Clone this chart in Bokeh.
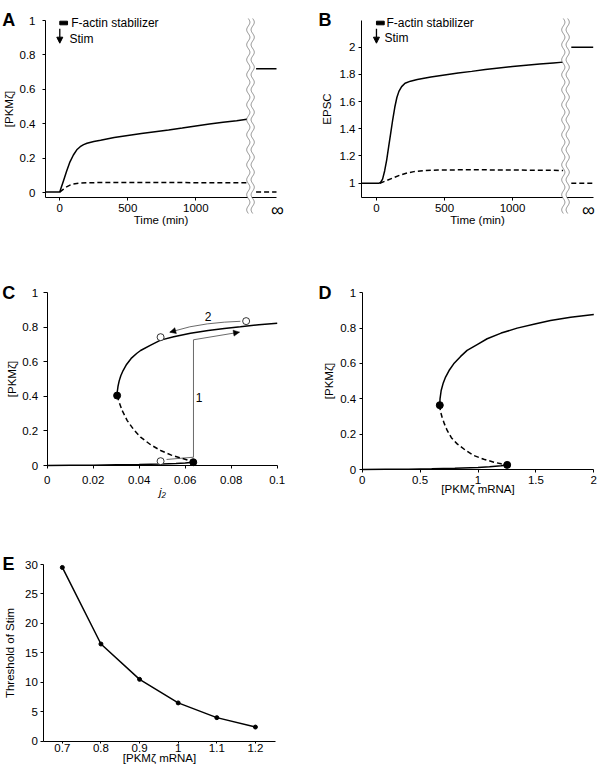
import numpy as np
from bokeh.plotting import figure
from bokeh.layouts import column, row
from bokeh.models import (Range1d, FixedTicker, CustomJSTickFormatter, Label, Arrow,
                          NormalHead, PolyAnnotation)
from bokeh.embed import file_html
from bokeh.resources import INLINE

FONT = "Liberation Sans"
TICK_FS = "11.5px"
LAB_FS = "11.5px"

# ---------------- Panel A data ----------------
a_solid_t = [-105, 0, 10, 25, 50, 75, 100, 125, 150, 175, 200, 250, 300, 400, 500, 600, 700,
             800, 900, 1000, 1100, 1200, 1300, 1388]
a_solid_v = [0.005, 0.005, 0.03, 0.065, 0.125, 0.18, 0.22, 0.25, 0.268, 0.28, 0.288, 0.298,
             0.305, 0.321, 0.333, 0.344, 0.355, 0.365, 0.376, 0.388, 0.399, 0.41, 0.419, 0.428]
a_dash_t = [0, 25, 50, 75, 100, 150, 200, 300, 500, 800, 1100, 1388]
a_dash_v = [0.005, 0.02, 0.035, 0.045, 0.052, 0.057, 0.059, 0.06, 0.06, 0.06, 0.059, 0.059]
a_inf_t = [1443, 1593]
a_inf_solid = [0.72, 0.72]
a_inf_dash = [0.005, 0.005]
a_yticks = [0, 0.2, 0.4, 0.6, 0.8, 1]
time_ticks = [0, 500, 1000]

# ---------------- Panel B data ----------------
b_solid_t = [-110, 20, 30, 45, 60, 75, 90, 105, 120, 135, 150, 165, 185, 210, 250, 300, 400,
             500, 600, 700, 800, 900, 1000, 1100, 1200, 1300, 1372]
b_solid_v = [1.0, 1.0, 1.005, 1.03, 1.09, 1.17, 1.27, 1.37, 1.47, 1.56, 1.63, 1.675, 1.71,
             1.735, 1.75, 1.762, 1.78, 1.795, 1.81, 1.822, 1.835, 1.847, 1.858, 1.867, 1.876,
             1.884, 1.89]
b_dash_t = [25, 75, 125, 175, 225, 275, 350, 450, 600, 800, 1000, 1200, 1372]
b_dash_v = [1.0, 1.02, 1.04, 1.06, 1.075, 1.085, 1.092, 1.097, 1.098, 1.098, 1.097, 1.095, 1.094]
b_inf_t = [1432, 1593]
b_inf_solid = [2.0, 2.0]
b_inf_dash = [1.0, 1.0]
b_yticks = [1, 1.2, 1.4, 1.6, 1.8, 2]

# ---------------- Panel C data ----------------
c_up_j = [0.0304, 0.0305, 0.0308, 0.0313, 0.032, 0.033, 0.0345, 0.0365, 0.039, 0.0406, 0.045,
          0.0493, 0.055, 0.0623, 0.07, 0.077, 0.084, 0.092, 0.1]
c_up_v = [0.405, 0.43, 0.46, 0.49, 0.52, 0.55, 0.585, 0.62, 0.65, 0.666, 0.697, 0.726, 0.745,
          0.766, 0.782, 0.793, 0.803, 0.815, 0.824]
c_mid_j = [0.0304, 0.0312, 0.0326, 0.0348, 0.0375, 0.0406, 0.045, 0.0493, 0.054, 0.058, 0.0613,
           0.0635]
c_mid_v = [0.405, 0.37, 0.318, 0.26, 0.21, 0.164, 0.12, 0.087, 0.06, 0.044, 0.03, 0.019]
c_low_j = [0, 0.01, 0.02, 0.03, 0.04, 0.05, 0.056, 0.06, 0.0635]
c_low_v = [0.0, 0.001, 0.002, 0.004, 0.006, 0.009, 0.012, 0.015, 0.019]
c_fold_j = [0.0304, 0.0635]
c_fold_v = [0.405, 0.019]
c_open_j = [0.0493, 0.0493, 0.0865]
c_open_v = [0.025, 0.743, 0.836]
c_path1_j = [0.0519, 0.0636, 0.0636, 0.0836]
c_path1_v = [0.035, 0.048, 0.728, 0.772]
c_path2_j = [0.084, 0.077, 0.0696, 0.062, 0.0533]
c_path2_v = [0.835, 0.830, 0.82, 0.803, 0.772]
c_xticks = [0, 0.02, 0.04, 0.06, 0.08, 0.1]

# ---------------- Panel D data ----------------
d_up_m = [0.67, 0.672, 0.682, 0.70, 0.72, 0.75, 0.79, 0.85, 0.906, 1.0, 1.079, 1.2, 1.338, 1.5,
          1.626, 1.8, 2.0]
d_up_v = [0.364, 0.40, 0.447, 0.49, 0.523, 0.56, 0.598, 0.64, 0.674, 0.71, 0.74, 0.772, 0.80,
          0.825, 0.843, 0.862, 0.877]
d_mid_m = [0.67, 0.675, 0.69, 0.71, 0.734, 0.77, 0.82, 0.89, 0.964, 1.05, 1.137, 1.2, 1.252]
d_mid_v = [0.364, 0.33, 0.296, 0.258, 0.221, 0.18, 0.145, 0.11, 0.079, 0.058, 0.0415, 0.032, 0.026]
d_low_m = [0, 0.2, 0.4, 0.6, 0.8, 1.0, 1.1, 1.2, 1.252]
d_low_v = [0.0, 0.001, 0.002, 0.004, 0.007, 0.012, 0.016, 0.021, 0.026]
d_fold_m = [0.67, 1.252]
d_fold_v = [0.364, 0.026]
d_xticks = [0, 0.5, 1, 1.5, 2]

# ---------------- Panel E data ----------------
e_mrna = [0.7, 0.8, 0.9, 1.0, 1.1, 1.2]
e_thresh = [29.5, 16.5, 10.5, 6.5, 4.0, 2.4]
e_yticks = [0, 5, 10, 15, 20, 25, 30]

NUMFMT = "return String(Math.round(tick*1000)/1000);"


def build(fig_box, area, xr, yr, yax, xax):
    """fig_box: page x, y, w, h of the figure; area: page left, right, top, bottom of the axes box."""
    fx0, fy0, fw, fh = fig_box
    al, ar, at, ab = area
    x0, x1 = xr
    y0, y1 = yr
    xpp = (x1 - x0) / (ar - al)
    ypp = (y1 - y0) / (ab - at)
    X0 = x0 - (al - fx0) * xpp
    X1 = x1 + (fx0 + fw - ar) * xpp
    Y1 = y1 + (at - fy0) * ypp
    Y0 = y0 - (fy0 + fh - ab) * ypp
    p = figure(width=fw, height=fh, min_border=0, x_range=Range1d(X0, X1),
               y_range=Range1d(Y0, Y1), output_backend="svg", toolbar_location=None, tools="")
    p.title.visible = False
    p.outline_line_color = None
    p.grid.visible = False
    p.background_fill_color = "white"
    p.border_fill_color = "white"
    for ax, (tout, st, lst) in ((p.xaxis[0], xax), (p.yaxis[0], yax)):
        ax.axis_line_color = "black"
        ax.axis_line_width = 1
        ax.major_tick_line_color = "black"
        ax.major_tick_out = tout
        ax.major_tick_in = 0
        ax.minor_tick_line_color = None
        ax.major_label_text_font = FONT
        ax.major_label_text_font_size = TICK_FS
        ax.major_label_text_color = "black"
        ax.major_label_standoff = st
        ax.axis_label_text_font = FONT
        ax.axis_label_text_font_size = LAB_FS
        ax.axis_label_text_font_style = "normal"
        ax.axis_label_text_color = "black"
        ax.axis_label_standoff = lst
    p.xaxis[0].fixed_location = y0
    p.xaxis[0].bounds = (x0, x1)
    p.yaxis[0].fixed_location = x0
    p.yaxis[0].bounds = (y0, y1)

    def tx(px):
        return X0 + (px - fx0) * xpp

    def ty(py):
        return Y1 - (py - fy0) * ypp

    return p, tx, ty, xpp, ypp


def letter(p, tx, ty, txt, px, py):
    p.add_layout(Label(x=tx(px), y=ty(py), text=txt, text_font=FONT, text_font_size="18px",
                       text_font_style="bold", text_baseline="alphabetic", text_align="left",
                       text_color="black"))


def add_break(p, xc, y_top, y_bot, xpp, ypp):
    hpx = (y_top - y_bot) / ypp
    py = np.linspace(0, hpx, 260)
    ys = y_top - py * ypp
    xl = xc - 2.2 * xpp + 1.6 * xpp * np.sin(2 * np.pi * py / 15.0)
    xr = xl + 4.4 * xpp
    p.add_layout(PolyAnnotation(xs=list(np.concatenate([xl, xr[::-1]])),
                                ys=list(np.concatenate([ys, ys[::-1]])),
                                fill_color="white", fill_alpha=1, line_color=None))
    for xx in (xl, xr):
        p.add_layout(PolyAnnotation(xs=list(np.concatenate([xx, xx[::-1]])),
                                    ys=list(np.concatenate([ys, ys[::-1]])),
                                    fill_alpha=0, line_color="#444444", line_width=1))


def legend_marks(p, bar, txt_xy, arr, stim_xy):
    p.quad(left=[bar[0]], right=[bar[1]], bottom=[bar[2]], top=[bar[3]], color="black")
    p.add_layout(Label(x=txt_xy[0], y=txt_xy[1], text="F-actin stabilizer", text_font=FONT,
                       text_font_size="12px", text_baseline="middle", text_color="black"))
    p.add_layout(Arrow(x_start=arr[0], y_start=arr[1], x_end=arr[0], y_end=arr[2],
                       line_width=1.3, line_color="black",
                       end=NormalHead(size=6, fill_color="black", line_color="black",
                                      line_width=1)))
    p.add_layout(Label(x=stim_xy[0], y=stim_xy[1], text="Stim", text_font=FONT,
                       text_font_size="12px", text_baseline="middle", text_color="black"))


def inf_label(p, x, y):
    p.add_layout(Label(x=x, y=y, text="\u221e", text_font=FONT, text_font_size="18px",
                       text_align="center", text_baseline="middle", text_color="black"))


LW = 1.5
DASH = "5 3"

# ---------------- Panel A ----------------
pA, txA, tyA, xppA, yppA = build((0, 0, 300, 240), (45, 276, 20, 196.7), (-105, 1593),
                                 (-0.025, 1.0), (3, 7, 2), (3, 4, -2))
pA.xaxis.ticker = FixedTicker(ticks=time_ticks)
pA.yaxis.ticker = FixedTicker(ticks=a_yticks)
pA.yaxis.formatter = CustomJSTickFormatter(code=NUMFMT)
pA.xaxis.axis_label = "Time (min)"
pA.yaxis.axis_label = "[PKM\u03b6]"
pA.line(a_solid_t, a_solid_v, line_color="black", line_width=LW)
pA.line(a_dash_t, a_dash_v, line_color="black", line_width=LW, line_dash=DASH)
pA.line(a_inf_t, a_inf_solid, line_color="black", line_width=LW)
pA.line(a_inf_t, a_inf_dash, line_color="black", line_width=LW, line_dash=DASH)
add_break(pA, txA(250), tyA(18), tyA(213), xppA, yppA)
legend_marks(pA, (0, 57, tyA(24.3), tyA(20.7)), (txA(70.7), tyA(22.3)),
             (0, tyA(28.3), tyA(42.7)), (txA(69), tyA(38.3)))
inf_label(pA, txA(277), tyA(209))
letter(pA, txA, tyA, "A", 1.7, 19.5)

# ---------------- Panel B ----------------
pB, txB, tyB, xppB, yppB = build((300, 0, 298, 240), (361, 592.7, 20, 196.7), (-110, 1593),
                                 (0.897, 2.196), (3, 3, 4), (3, 4, -2))
pB.xaxis.ticker = FixedTicker(ticks=time_ticks)
pB.yaxis.ticker = FixedTicker(ticks=b_yticks)
pB.yaxis.formatter = CustomJSTickFormatter(code=NUMFMT)
pB.xaxis.axis_label = "Time (min)"
pB.yaxis.axis_label = "EPSC"
pB.line(b_solid_t, b_solid_v, line_color="black", line_width=LW)
pB.line(b_dash_t, b_dash_v, line_color="black", line_width=LW, line_dash=DASH)
pB.line(b_inf_t, b_inf_solid, line_color="black", line_width=LW)
pB.line(b_inf_t, b_inf_dash, line_color="black", line_width=LW, line_dash=DASH)
add_break(pB, txB(565), tyB(18), tyB(213), xppB, yppB)
legend_marks(pB, (0, 57, tyB(24.3), tyB(20.7)), (txB(386), tyB(22.3)),
             (0, tyB(28.3), tyB(42.7)), (txB(384), tyB(37.7)))
inf_label(pB, txB(588), tyB(209))
letter(pB, txB, tyB, "B", 318, 19.5)

# ---------------- Panel C ----------------
pC, txC, tyC, _, _ = build((0, 240, 300, 270), (46.7, 276.7, 292.3, 465), (0, 0.1), (0, 1.0),
                           (4, 5, 2), (3, 7, -1))
pC.xaxis.ticker = FixedTicker(ticks=c_xticks)
pC.xaxis.formatter = CustomJSTickFormatter(code=NUMFMT)
pC.yaxis.ticker = FixedTicker(ticks=a_yticks)
pC.yaxis.formatter = CustomJSTickFormatter(code=NUMFMT)
pC.xaxis.axis_label = "j\u2082"
pC.xaxis.axis_label_text_font_style = "italic"
pC.yaxis.axis_label = "[PKM\u03b6]"
pC.line(c_path1_j, c_path1_v, line_color="#444444", line_width=0.8)
pC.add_layout(Arrow(x_start=c_path1_j[-2], y_start=c_path1_v[-2], x_end=c_path1_j[-1],
                    y_end=c_path1_v[-1], line_alpha=0,
                    end=NormalHead(size=6, fill_color="black", line_color="black",
                                   line_width=0.5)))
pC.line(c_path2_j, c_path2_v, line_color="#444444", line_width=0.8)
pC.add_layout(Arrow(x_start=c_path2_j[-2], y_start=c_path2_v[-2], x_end=c_path2_j[-1],
                    y_end=c_path2_v[-1], line_alpha=0,
                    end=NormalHead(size=6, fill_color="black", line_color="black",
                                   line_width=0.5)))
pC.line(c_up_j, c_up_v, line_color="black", line_width=LW)
pC.line(c_mid_j, c_mid_v, line_color="black", line_width=LW, line_dash=DASH)
pC.line(c_low_j, c_low_v, line_color="black", line_width=LW)
pC.scatter(c_fold_j, c_fold_v, size=7, marker="circle", fill_color="black", line_color="black")
pC.scatter(c_open_j, c_open_v, size=7, marker="circle", fill_color="white", line_color="black",
           line_width=0.8)
pC.add_layout(Label(x=0.066, y=0.396, text="1", text_font=FONT, text_font_size="12px",
                    text_align="center", text_baseline="middle", text_color="black"))
pC.add_layout(Label(x=0.0699, y=0.865, text="2", text_font=FONT, text_font_size="12px",
                    text_align="center", text_baseline="middle", text_color="black"))
letter(pC, txC, tyC, "C", 1.7, 292)

# ---------------- Panel D ----------------
pD, txD, tyD, _, _ = build((300, 240, 298, 270), (361.7, 593.3, 292.3, 469), (0, 2), (0, 1.0),
                           (3, 3, 3), (3, 3, -4))
pD.xaxis.ticker = FixedTicker(ticks=d_xticks)
pD.xaxis.formatter = CustomJSTickFormatter(code=NUMFMT)
pD.yaxis.ticker = FixedTicker(ticks=a_yticks)
pD.yaxis.formatter = CustomJSTickFormatter(code=NUMFMT)
pD.xaxis.axis_label = "[PKM\u03b6 mRNA]"
pD.yaxis.axis_label = "[PKM\u03b6]"
pD.line(d_up_m, d_up_v, line_color="black", line_width=LW)
pD.line(d_mid_m, d_mid_v, line_color="black", line_width=LW, line_dash=DASH)
pD.line(d_low_m, d_low_v, line_color="black", line_width=LW)
pD.scatter(d_fold_m, d_fold_v, size=7, marker="circle", fill_color="black", line_color="black")
letter(pD, txD, tyD, "D", 318, 292)

# ---------------- Panel E ----------------
pE, txE, tyE, _, _ = build((0, 510, 300, 266), (43.3, 275, 564, 740.7), (0.652, 1.252), (0, 30),
                           (3, 3, 6), (2, 1, -4))
pE.xaxis.ticker = FixedTicker(ticks=e_mrna)
pE.xaxis.formatter = CustomJSTickFormatter(code=NUMFMT)
pE.yaxis.ticker = FixedTicker(ticks=e_yticks)
pE.xaxis.axis_label = "[PKM\u03b6 mRNA]"
pE.yaxis.axis_label = "Threshold of Stim"
pE.line(e_mrna, e_thresh, line_color="black", line_width=LW)
pE.scatter(e_mrna, e_thresh, size=4, marker="circle", fill_color="black", line_color="black")
letter(pE, txE, tyE, "E", 2, 563)

layout = column(row(pA, pB), row(pC, pD), row(pE))
open("out.html", "w").write(file_html(layout, INLINE))
